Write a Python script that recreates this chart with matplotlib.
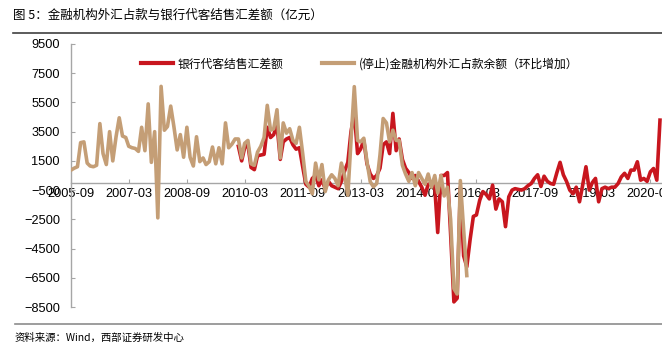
import matplotlib
matplotlib.use("Agg")
import matplotlib.pyplot as plt
import matplotlib.dates as mdates
from matplotlib.lines import Line2D
import pandas as pd

# monthly data, 亿元
months = pd.date_range("2005-09-01", periods=184, freq="MS")

# (停止)金融机构外汇占款余额（环比增加）, 2005-09 .. 2015-12
fx_position = [
    870, 1000, 1100, 2750, 2800, 1350, 1150, 1100, 1200, 4050,
    2000, 1250, 3500, 1500, 3150, 4450, 3200, 3100, 2500, 2400,
    2350, 2150, 3800, 2200, 5400, 1400, 3500, -2400, 6600, 3600,
    3850, 5250, 3850, 2250, 3300, 1750, 3800, 1750, 1150, 3150,
    1450, 1700, 1250, 1450, 2450, 1300, 2400, 1300, 4100, 2400,
    2650, 3000, 3000, 1700, 2700, 2900, 1300, 1200, 2100, 2500,
    3100, 5300, 3600, 3700, 5000, 1700, 4100, 3400, 3700, 2900,
    2700, 3800, 2000, 100, -250, -750, 1350, 200, 1250, -600,
    200, 550, 300, -200, 1350, 500, -850, 2900, 6580, 2900,
    2800, 3050, 1440, 70, -270, -50, 1900, 4400, 4100, 2800,
    3600, 2900, 2900, 1200, 600, 100, 700, -200, 700, 300,
    -100, 600, -300, 500, -700, 500, -900, -300, -2500, -7240,
    -7610, 150, -3200, -6350,
]

# 银行代客结售汇差额, 2010-01 .. 2020-12
settlement = [
    2500, 1500, 2400, 2600, 1050, 900, 1850, 1900,
    1950, 3800, 3100, 3300, 4000, 1600, 2800, 3000, 3100, 2600,
    2300, 2400, 1100, -100, -300, 300, 500, -200, 200, -400,
    100, -200, -300, -400, 100, 800, 1400, 3500, 4800, 2000,
    2300, 2900, 1300, 600, 300, 500, 1000, 2600, 2800, 2000,
    4750, 2200, 3000, 1600, 1000, 700, 300, 500, 100, -300,
    -850, -100, -50, -300, -3400, 500, 500, 700, -3500, -8150,
    -7900, -300, -5000, -5750, -3900, -2300, -2200, -1200, -600, -800,
    -1100, -160, -1800, -1100, -1300, -3000, -960, -500, -400, -450,
    -500, -400, -200, -50, 300, 550, -250, 450, 100, -50,
    -100, 700, 1400, 550, 100, -500, -750, -300, -1300, -150,
    1100, -500, 0, 300, -1300, -400, -300, -400, -300, -300,
    -50, 400, 650, 300, 870, 870, 1440, 180, 300, 100,
    750, 980, 180, 4290,
]

x_fx = months[:len(fx_position)]
x_set = months[52:52 + len(settlement)]

red = "#C8161E"
tan = "#C49E76"
cjk = ["Noto Sans CJK SC", "DejaVu Sans"]

fig = plt.figure(figsize=(6.62, 3.53), dpi=100)
ax = fig.add_axes([71 / 662, 46 / 353, 1 - 71 / 662, 263 / 353])

ax.plot(x_set, settlement, color=red, lw=2.6, zorder=3, label="银行代客结售汇差额")
ax.plot(x_fx, fx_position, color=tan, lw=2.6, zorder=3,
        label="(停止)金融机构外汇占款余额（环比增加）")

ax.set_ylim(-8500, 9500)
ax.set_yticks(range(-8500, 9501, 2000))
ax.set_xlim(pd.Timestamp("2005-09-01"), pd.Timestamp("2020-12-20"))
xticks = pd.date_range("2005-09-01", "2020-09-01", freq="18MS")
ax.set_xticks(xticks)
ax.xaxis.set_major_formatter(mdates.DateFormatter("%Y-%m"))

for s in ["top", "right"]:
    ax.spines[s].set_visible(False)
ax.spines["bottom"].set_position(("data", 0))
for s in ["left", "bottom"]:
    ax.spines[s].set_color("#A6A6A6")
    ax.spines[s].set_linewidth(1.0)
ax.tick_params(axis="both", direction="in", length=3, color="#A6A6A6",
               labelsize=9.2, labelcolor="black")
ax.tick_params(axis="y", pad=8)
ax.tick_params(axis="x", pad=4)
for lab in ax.get_xticklabels() + ax.get_yticklabels():
    lab.set_fontfamily("Liberation Sans")

leg = fig.legend(loc="center left", bbox_to_anchor=(135 / 662, 1 - 64 / 353), ncol=2,
                 frameon=False, borderpad=0, handlelength=2.7, handletextpad=0.4,
                 columnspacing=3.3, prop={"family": cjk, "size": 8.5})
for h in leg.get_lines():
    h.set_linewidth(3.0)

fig.text(13 / 662, 1 - 15 / 353, "图 5：金融机构外汇占款与银行代客结售汇差额（亿元）",
         family=cjk, fontsize=9, va="center", ha="left")
fig.add_artist(Line2D([13 / 662, 1], [1 - 33 / 353, 1 - 33 / 353],
                      color="#404040", lw=1.2))
fig.add_artist(Line2D([15 / 662, 1], [1 - 324 / 353, 1 - 324 / 353],
                      color="#8C8C8C", lw=1.2))
fig.text(15 / 662, 1 - 338 / 353, "资料来源：Wind，西部证券研发中心",
         family=cjk, fontsize=7.5, va="center", ha="left")

fig.savefig("out.png", dpi=100)
